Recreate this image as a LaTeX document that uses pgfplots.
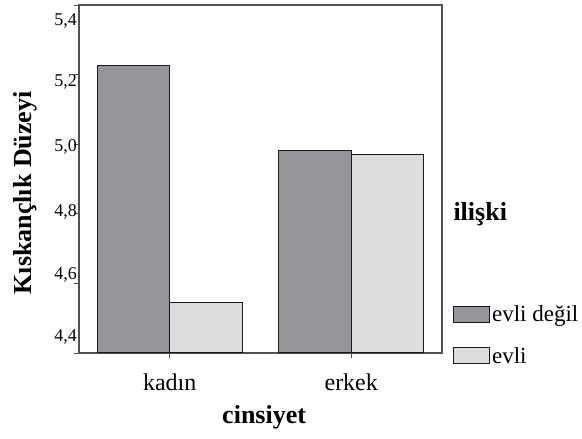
\documentclass[border=0pt]{standalone}
\usepackage{fontspec}
\setmainfont{Liberation Serif}
\usepackage{pgfplots}
\pgfplotsset{compat=1.18}
\definecolor{darkbar}{HTML}{96969A}
\definecolor{lightbar}{HTML}{DCDCDE}
\definecolor{axisgray}{HTML}{505050}
\begin{document}
\begin{tikzpicture}
\begin{axis}[
  at={(0,0)}, anchor=south west,
  scale only axis,
  width=363pt, height=348pt,
  xmin=-0.5, xmax=1.5,
  ymin=4.4, ymax=5.4,
  ybar=0pt, bar width=0.4,
  xtick={0,1}, xticklabels={kadın,erkek},
  ytick={4.4,4.6,4.8,5.0,5.2,5.4},
  yticklabel=\empty,
  extra y ticks={4.446,4.624,4.805,4.992,5.179,5.354},
  extra y tick labels={{4,4},{4,6},{4,8},{5,0},{5,2},{5,4}},
  extra y tick style={major tick length=0pt, yticklabel style={font=\fontsize{18}{20}\selectfont, inner sep=2pt}},
  xtick pos=left, ytick pos=left,
  tick align=outside, major tick length=5pt,
  axis line style={axisgray, line width=1.2pt},
  tick style={axisgray, line width=0.8pt},
  /pgf/number format/assume math mode=true,
  yticklabel style={font=\fontsize{18}{20}\selectfont, inner sep=2pt},
  xticklabel style={font=\fontsize{24}{27}\selectfont, yshift=-12pt},
  xlabel={\textbf{cinsiyet}},
  xlabel style={font=\fontsize{26}{29}\selectfont, at={(axis description cs:0.51,-0.184)}, anchor=center},
  ylabel={\textbf{Kıskançlık Düzeyi}},
  ylabel style={font=\fontsize{26}{29}\selectfont, at={(axis description cs:-0.147,0.46)}, anchor=center, rotate=0},
  legend style={at={(rel axis cs:1.030,0.142)}, anchor=north west, draw=none, fill=none,
     font=\fontsize{23}{26}\selectfont, row sep=20pt, inner sep=0pt,
     /tikz/every even column/.append style={column sep=0pt}},
  legend cell align=left,
  legend image code/.code={\draw[#1] (0pt,-8pt) rectangle (36pt,8pt);},
  clip=false,
]
\addplot[fill=darkbar, draw=black!90, line width=1pt] coordinates {(0,5.225) (1,4.983)};
\addplot[fill=lightbar, draw=black!90, line width=1pt] coordinates {(0,4.544) (1,4.969)};
\legend{evli değil,evli}
\node[anchor=west, font=\fontsize{26}{29}\selectfont\bfseries] at (rel axis cs:1.022,0.40) {ilişki};
\end{axis}
\pgfresetboundingbox
\path[use as bounding box] (-79pt,-86pt) rectangle (503pt,353pt);
\end{tikzpicture}
\end{document}
